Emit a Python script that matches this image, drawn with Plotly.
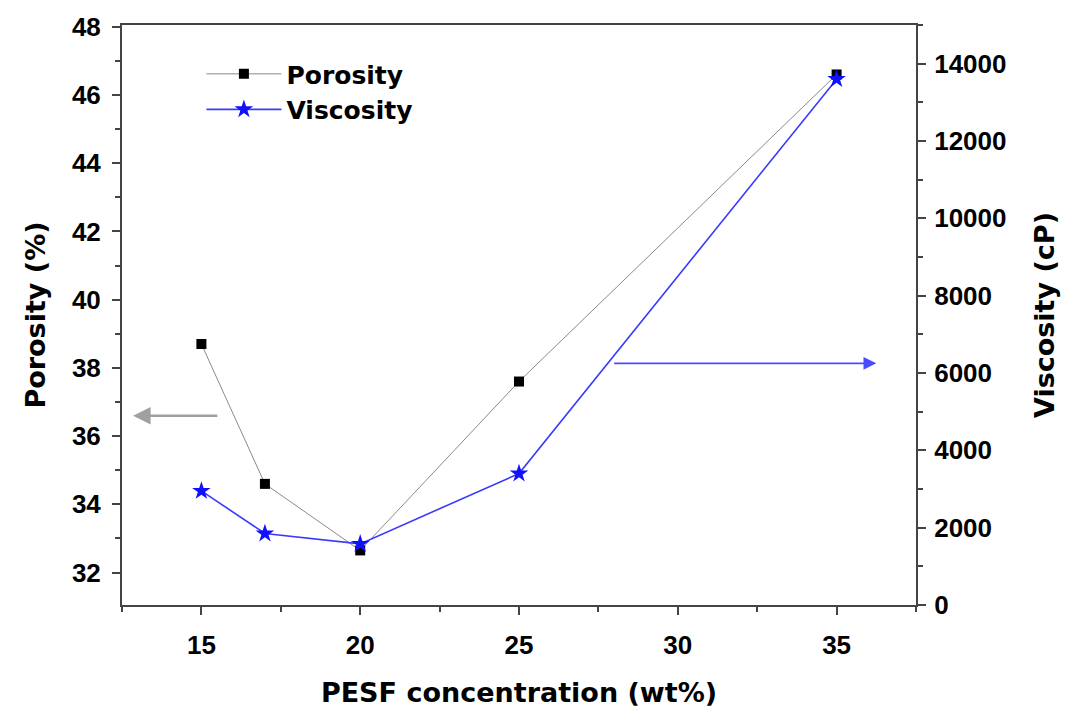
import plotly.graph_objects as go

conc = [15, 17, 20, 25, 35]
porosity = [38.7, 34.6, 32.65, 37.6, 46.6]
viscosity = [2950, 1850, 1580, 3400, 13600]

x_ticks = [15, 20, 25, 30, 35]
por_ticks = [32, 34, 36, 38, 40, 42, 44, 46, 48]
vis_ticks = [0, 2000, 4000, 6000, 8000, 10000, 12000, 14000]

FONT = "Liberation Sans, Arial, sans-serif"
TFONT = "DejaVu Sans, Liberation Sans, sans-serif"
AX = "#444444"

fig = go.Figure()
fig.add_trace(go.Scatter(
    x=conc, y=porosity, name="<b>Porosity</b>", mode="lines+markers",
    line=dict(color="#8a8a8a", width=1),
    marker=dict(symbol="square", size=10, color="black"),
    yaxis="y"))
fig.add_trace(go.Scatter(
    x=conc, y=viscosity, name="<b>Viscosity</b>", mode="lines+markers",
    line=dict(color="#3a3aff", width=1.6),
    marker=dict(symbol="star", size=14, color="#1010ff"),
    yaxis="y2"))

tickfont = dict(family=FONT, size=26, color="black")
titlefont = dict(family=TFONT, size=27, color="black")

def b(vals):
    return [f"<b>{v}</b>" for v in vals]

fig.update_layout(
    width=1067, height=715,
    margin=dict(l=122, r=151, t=23, b=110),
    paper_bgcolor="white", plot_bgcolor="white",
    font=dict(family=FONT),
    showlegend=True,
    legend=dict(x=0.1, y=0.955, xanchor="left", yanchor="top",
                bgcolor="rgba(0,0,0,0)", font=dict(family=TFONT, size=25, color="black"),
                itemwidth=75, tracegroupgap=6),
    xaxis=dict(range=[12.5, 37.5], tickvals=x_ticks, ticktext=b(x_ticks),
               ticks="outside", ticklen=8, tickwidth=2, tickcolor=AX,
               minor=dict(tickvals=[12.5, 17.5, 22.5, 27.5, 32.5, 37.5], ticks="outside", ticklen=5, tickwidth=2, tickcolor=AX),
               showline=True, linecolor=AX, linewidth=2, mirror=True,
               showgrid=False, zeroline=False,
               tickfont=tickfont, ticklabelstandoff=8,
               title=dict(text="<b>PESF concentration (wt%)</b>", font=titlefont, standoff=24)),
    yaxis=dict(range=[31.05, 48.05], tickvals=por_ticks, ticktext=b(por_ticks),
               ticks="outside", ticklen=8, tickwidth=2, tickcolor=AX,
               minor=dict(dtick=1, ticks="outside", ticklen=5, tickwidth=2, tickcolor=AX),
               showline=True, linecolor=AX, linewidth=2,
               showgrid=False, zeroline=False, tickfont=tickfont, ticklabelstandoff=6,
               title=dict(text="<b>Porosity (%)</b>", font=titlefont, standoff=18)),
    yaxis2=dict(range=[0, 15000], overlaying="y", side="right",
                tickvals=vis_ticks, ticktext=b(vis_ticks),
                ticks="outside", ticklen=8, tickwidth=2, tickcolor=AX,
                minor=dict(dtick=1000, ticks="outside", ticklen=5, tickwidth=2, tickcolor=AX),
                showline=True, linecolor=AX, linewidth=2,
                showgrid=False, zeroline=False, tickfont=tickfont, ticklabelstandoff=3,
                title=dict(text="<b>Viscosity (cP)</b>", font=titlefont, standoff=30)),
)

fig.add_annotation(x=12.85, y=36.6, xref="x", yref="y", ax=15.55, ay=36.6, axref="x", ayref="y",
                   showarrow=True, arrowhead=2, arrowsize=1.4, arrowwidth=2.5, arrowcolor="#a0a0a0", text="")
fig.add_annotation(x=36.25, y=6250, xref="x", yref="y2", ax=27.95, ay=6250, axref="x", ayref="y2",
                   showarrow=True, arrowhead=2, arrowsize=1.6, arrowwidth=1.6, arrowcolor="#4a4aff", text="")

fig.write_html("out.html")
